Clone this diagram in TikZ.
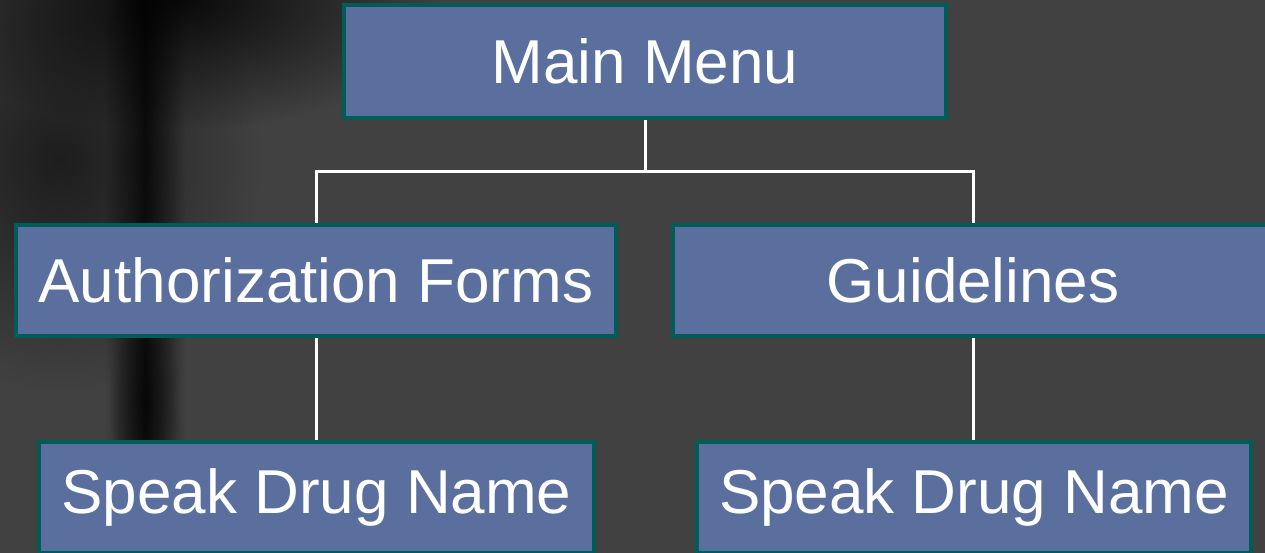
\documentclass[tikz,border=0pt]{standalone}
\usepackage{fontspec}
\setmainfont{Liberation Sans}
\usetikzlibrary{fadings}
\definecolor{bg}{RGB}{65,65,65}
\definecolor{boxfill}{RGB}{90,111,158}
\definecolor{boxedge}{RGB}{0,92,86}
\tikzfading[name=blobfade, inner color=transparent!0, outer color=transparent!100]
\tikzfading[name=stemfade, left color=transparent!100, right color=transparent!100, middle color=transparent!0]
\tikzfading[name=vfade, top color=transparent!100, bottom color=transparent!100, middle color=transparent!0]
\tikzset{
  menubox/.style={draw=boxedge, line width=4pt, fill=boxfill, text=white, inner sep=0pt,
    font=\fontsize{62}{70}\selectfont},
  link/.style={draw=white, line width=3pt}
}
\begin{document}
\begin{tikzpicture}[x=1pt,y=-1pt]
\useasboundingbox (0,0) rectangle (1265,553);
\clip (0,0) rectangle (1265,553);
\fill[bg] (0,0) rectangle (1265,553);
% blurred background object
\fill[black, opacity=0.55, path fading=blobfade] (60,160) ellipse [x radius=200, y radius=230];
\fill[black, opacity=0.85, path fading=blobfade] (180,0) ellipse [x radius=260, y radius=130];
\begin{scope}
\clip (105,-20) rectangle (185,560);
\fill[black, opacity=0.75, path fading=stemfade] (105,-20) rectangle (185,560);
\end{scope}
\fill[black, opacity=0.5, path fading=blobfade] (145,400) ellipse [x radius=35, y radius=110];
% boxes
\node[menubox, minimum width=602pt, minimum height=113pt] (main) at (645,61.5) {Main Menu};
\node[menubox, minimum width=600pt, minimum height=111pt] (auth) at (316,280.5) {Authorization Forms};
\node[menubox, minimum width=600pt, minimum height=111pt] (guide) at (973,280.5) {Guidelines};
\node[menubox, minimum width=555pt, minimum height=111pt] (sdl) at (316.5,497.5) {Speak Drug Name};
\node[menubox, minimum width=554pt, minimum height=111pt] (sdr) at (974,497.5) {Speak Drug Name};
% connectors
\coordinate (jn) at (645,172);
\draw[link] (main.south) -- (jn);
\draw[link] (auth.north) |- (jn) -| (guide.north);
\draw[link] (auth.south) -- (sdl.north -| auth.south);
\draw[link] (guide.south) -- (sdr.north -| guide.south);
\end{tikzpicture}
\end{document}
